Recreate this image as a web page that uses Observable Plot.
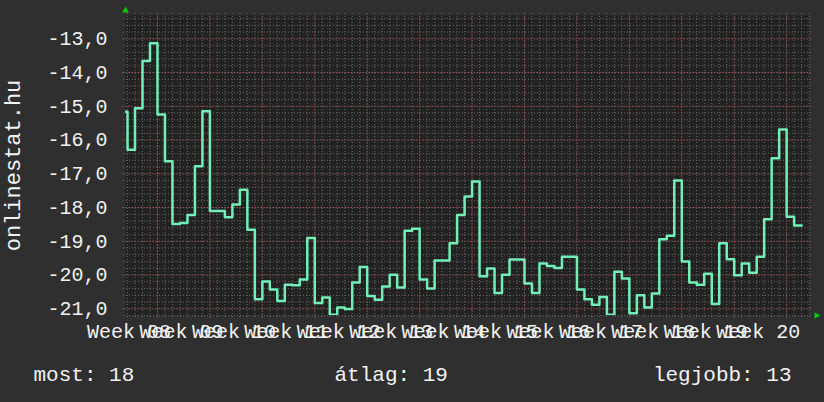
<!DOCTYPE html>
<html>
<head>
<meta charset="utf-8">
<script src="https://cdn.jsdelivr.net/npm/d3@7"></script>
<script src="https://cdn.jsdelivr.net/npm/@observablehq/plot@0.6"></script>
<style>
  html, body { margin: 0; padding: 0; background: #2f2f2f; }
</style>
</head>
<body>
<div id="chart"></div>
<script>
// Daily values (one per day), first day starts 5 days before the Week 08/09 boundary
const startDay = -5;
const values = [
  -15.16, -16.29, -15.06, -13.66, -13.13, -15.24, -16.63, -18.49, -18.46, -18.22,
  -16.78, -15.15, -18.10, -18.10, -18.29, -17.91, -17.47, -18.66, -20.72, -20.19,
  -20.43, -20.77, -20.29, -20.30, -20.13, -18.90, -20.83, -20.67, -21.18, -20.96,
  -21.01, -20.22, -19.76, -20.62, -20.73, -20.34, -19.99, -20.37, -18.69, -18.63,
  -20.13, -20.40, -19.57, -19.57, -19.06, -18.22, -17.67, -17.23, -20.04, -19.81,
  -20.53, -19.99, -19.54, -19.54, -20.25, -20.53, -19.66, -19.73, -19.79, -19.46,
  -19.46, -20.43, -20.72, -20.88, -20.65, -21.18, -19.90, -20.10, -21.13, -20.60,
  -20.96, -20.55, -18.94, -18.84, -17.20, -19.60, -20.22, -20.29, -19.96, -20.86,
  -19.06, -19.53, -20.01, -19.66, -19.93, -19.46, -18.35, -16.54, -15.69, -18.27,
  -18.53
];
const weeks = [8, 9, 10, 11, 12, 13, 14, 15, 16, 17, 18, 19, 20];
const yTicks = [-21, -20, -19, -18, -17, -16, -15, -14, -13];
const yTitle = "onlinestat.hu";
const legendLabels = ["most", "átlag", "legjobb"];
const legendValues = [18, 19, 13];

// build the step table (each value holds for one day), plus the closing point
const series = values.map((v, i) => ({day: startDay + i, value: v}));
series.push({day: startDay + values.length, value: values[values.length - 1]});

const xDomain = [-4.27, 87.05];
const yDomain = [-21.2, -12.31];
const pxX = 684 / (xDomain[1] - xDomain[0]);
const pxY = 300 / (yDomain[1] - yDomain[0]);

const minorDays = d3.range(-4, 88);
const majorDays = d3.range(0, 88, 7);
const minorY = d3.range(-106, -61).map(k => k / 5);

const font = "Liberation Mono, DejaVu Sans Mono, monospace";
const textColor = "#f2f2f2";

const chart = Plot.plot({
  width: 824,
  height: 402,
  marginLeft: 125,
  marginRight: 15,
  marginTop: 15,
  marginBottom: 87,
  x: {domain: xDomain, axis: null},
  y: {domain: yDomain, axis: null},
  style: {background: "#2f2f2f", color: textColor, fontFamily: font, fontSize: "20px"},
  marks: [
    Plot.frame({fill: "#222222", stroke: null}),
    // minor grid
    Plot.ruleX(minorDays, {x: d => d, y1: yDomain[0] - 2 / pxY, y2: yDomain[1] + 2 / pxY,
      stroke: "#686868", strokeWidth: 1, strokeDasharray: "1,2"}),
    Plot.ruleY(minorY, {y: d => d, x1: xDomain[0] - 2 / pxX, x2: xDomain[1] + 3 / pxX,
      stroke: "#686868", strokeWidth: 1, strokeDasharray: "1,2"}),
    // major grid
    Plot.ruleX(majorDays, {x: d => d, y1: yDomain[0] - 3 / pxY, y2: yDomain[1] + 2 / pxY,
      stroke: "#93383a", strokeWidth: 1, strokeDasharray: "1,2"}),
    Plot.ruleY(yTicks, {y: d => d, x1: xDomain[0] - 3 / pxX, x2: xDomain[1] + 3 / pxX,
      stroke: "#93383a", strokeWidth: 1, strokeDasharray: "1,2"}),
    // data
    Plot.line(series, {x: "day", y: "value", curve: "step-after",
      stroke: "#72eeb6", strokeWidth: 2.5, clip: true}),
    // y ticks
    Plot.axisY(yTicks, {tickSize: 0, tickPadding: 18, label: null,
      tickFormat: d => d.toFixed(1).replace(".", ","), fontSize: 20, fill: textColor}),
    // x labels
    Plot.text(weeks, {x: w => 7 * (w - 8) - 3.8, frameAnchor: "bottom", dy: 16,
      lineAnchor: "middle", textAnchor: "middle", fontSize: 20, fill: textColor,
      text: w => "Week " + String(w).padStart(2, "0")}),
    // y title
    Plot.text([yTitle], {frameAnchor: "left", dx: -113, rotate: -90, textAnchor: "middle",
      lineAnchor: "middle", fontSize: 22, fill: textColor}),
    // legend line
    Plot.text([0], {frameAnchor: "bottom-left", dx: 33 - 125, dy: 59, textAnchor: "start",
      lineAnchor: "middle", fontSize: 21, fill: textColor,
      text: i => legendLabels[i] + ": " + legendValues[i]}),
    Plot.text([1], {frameAnchor: "bottom-left", dx: 334 - 125, dy: 59, textAnchor: "start",
      lineAnchor: "middle", fontSize: 21, fill: textColor,
      text: i => legendLabels[i] + ": " + legendValues[i]}),
    Plot.text([2], {frameAnchor: "bottom-right", dx: 791 - 809, dy: 59, textAnchor: "end",
      lineAnchor: "middle", fontSize: 21, fill: textColor,
      text: i => legendLabels[i] + ": " + legendValues[i]}),
    // arrows
    Plot.dot([0], {x: xDomain[0], y: yDomain[1] + 5 / pxY, symbol: "triangle2", r: 3.2,
      fill: "#00d000", stroke: null}),
    Plot.dot([0], {x: xDomain[1] + 7 / pxX, y: yDomain[0], symbol: "triangle2", r: 3.2,
      rotate: 90, fill: "#00d000", stroke: null})
  ]
});
document.getElementById("chart").appendChild(chart);
</script>
</body>
</html>
